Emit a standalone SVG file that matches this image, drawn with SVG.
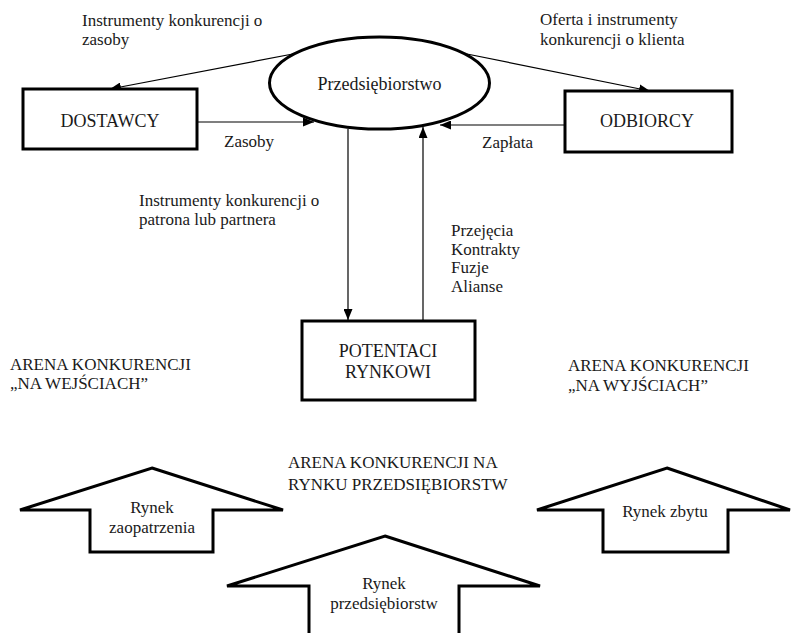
<svg xmlns="http://www.w3.org/2000/svg" width="791" height="633" viewBox="0 0 791 633">
<style>
text{font-family:"Liberation Serif","Times New Roman",serif;fill:#1a1a1a}
.lbl{font-size:17px}
.big{font-size:18px}
.mid{text-anchor:middle}
.node{fill:#fff;stroke:#000;stroke-width:3}
.blk{fill:#fff;stroke:#000;stroke-width:3;stroke-linejoin:miter}
.con{stroke:#000;stroke-width:1.2;fill:none;marker-end:url(#ah)}
</style>
<defs>
<marker id="ah" markerUnits="userSpaceOnUse" markerWidth="11" markerHeight="9" refX="11" refY="4.5" orient="auto">
<path d="M0,0 L11,4.5 L0,9 z" fill="#000"/>
</marker>
</defs>
<rect width="791" height="633" fill="#fff"/>

<g id="connectors">
<line class="con" x1="298" y1="53" x2="110" y2="89"/>
<line class="con" x1="197" y1="122" x2="314" y2="122"/>
<line class="con" x1="467" y1="54" x2="650" y2="91"/>
<line class="con" x1="565" y1="125" x2="440" y2="125"/>
<line class="con" x1="348" y1="129" x2="348" y2="320"/>
<line class="con" x1="423" y1="321" x2="423" y2="127"/>
</g>

<g id="przedsiebiorstwo">
<ellipse class="node" cx="379.5" cy="83" rx="110" ry="46"/>
<text class="big mid" x="379.5" y="90">Przedsiębiorstwo</text>
</g>

<g id="dostawcy">
<rect class="node" x="23" y="89" width="174" height="60"/>
<text class="big mid" x="110" y="127">DOSTAWCY</text>
</g>

<g id="odbiorcy">
<rect class="node" x="565" y="91" width="167" height="61"/>
<text class="big mid" x="647" y="127">ODBIORCY</text>
</g>

<g id="potentaci">
<rect class="node" x="302" y="321" width="173" height="79"/>
<text class="big mid" x="388" y="357">POTENTACI</text>
<text class="big mid" x="388" y="378">RYNKOWI</text>
</g>

<g id="labels">
<text class="lbl" x="82" y="26">Instrumenty konkurencji o</text>
<text class="lbl" x="82" y="45">zasoby</text>
<text class="lbl" x="540" y="25">Oferta i instrumenty</text>
<text class="lbl" x="540" y="45">konkurencji o klienta</text>
<text class="lbl" x="224" y="147">Zasoby</text>
<text class="lbl" x="482" y="148">Zapłata</text>
<text class="lbl" x="139" y="206">Instrumenty konkurencji o</text>
<text class="lbl" x="139" y="225">patrona lub partnera</text>
<text class="lbl" x="451" y="236">Przejęcia</text>
<text class="lbl" x="451" y="255">Kontrakty</text>
<text class="lbl" x="451" y="273">Fuzje</text>
<text class="lbl" x="451" y="292">Alianse</text>
</g>

<g id="arena-wejscia">
<text class="lbl" x="10" y="370">ARENA KONKURENCJI</text>
<text class="lbl" x="10" y="389">„NA WEJŚCIACH”</text>
</g>
<g id="arena-wyjscia">
<text class="lbl" x="568" y="371">ARENA KONKURENCJI</text>
<text class="lbl" x="568" y="391">„NA WYJŚCIACH”</text>
</g>
<g id="arena-rynek">
<text class="lbl" x="288" y="468">ARENA KONKURENCJI NA</text>
<text class="lbl" x="288" y="490">RYNKU PRZEDSIĘBIORSTW</text>
</g>

<g id="rynek-zaopatrzenia">
<polygon class="blk" points="152,468 283,510 213,510 213,552 90,552 90,510 20,510"/>
<text class="lbl mid" x="152" y="513">Rynek</text>
<text class="lbl mid" x="152" y="533">zaopatrzenia</text>
</g>

<g id="rynek-zbytu">
<polygon class="blk" points="667,468 790,510 728,510 728,552 603,552 603,510 537,510"/>
<text class="lbl mid" x="665" y="517">Rynek zbytu</text>
</g>

<g id="rynek-przedsiebiorstw">
<polygon class="blk" points="385,536 540,586 459,586 459,645 309,645 309,586 227,586"/>
<text class="lbl mid" x="384" y="589">Rynek</text>
<text class="lbl mid" x="384" y="609">przedsiębiorstw</text>
</g>
</svg>
